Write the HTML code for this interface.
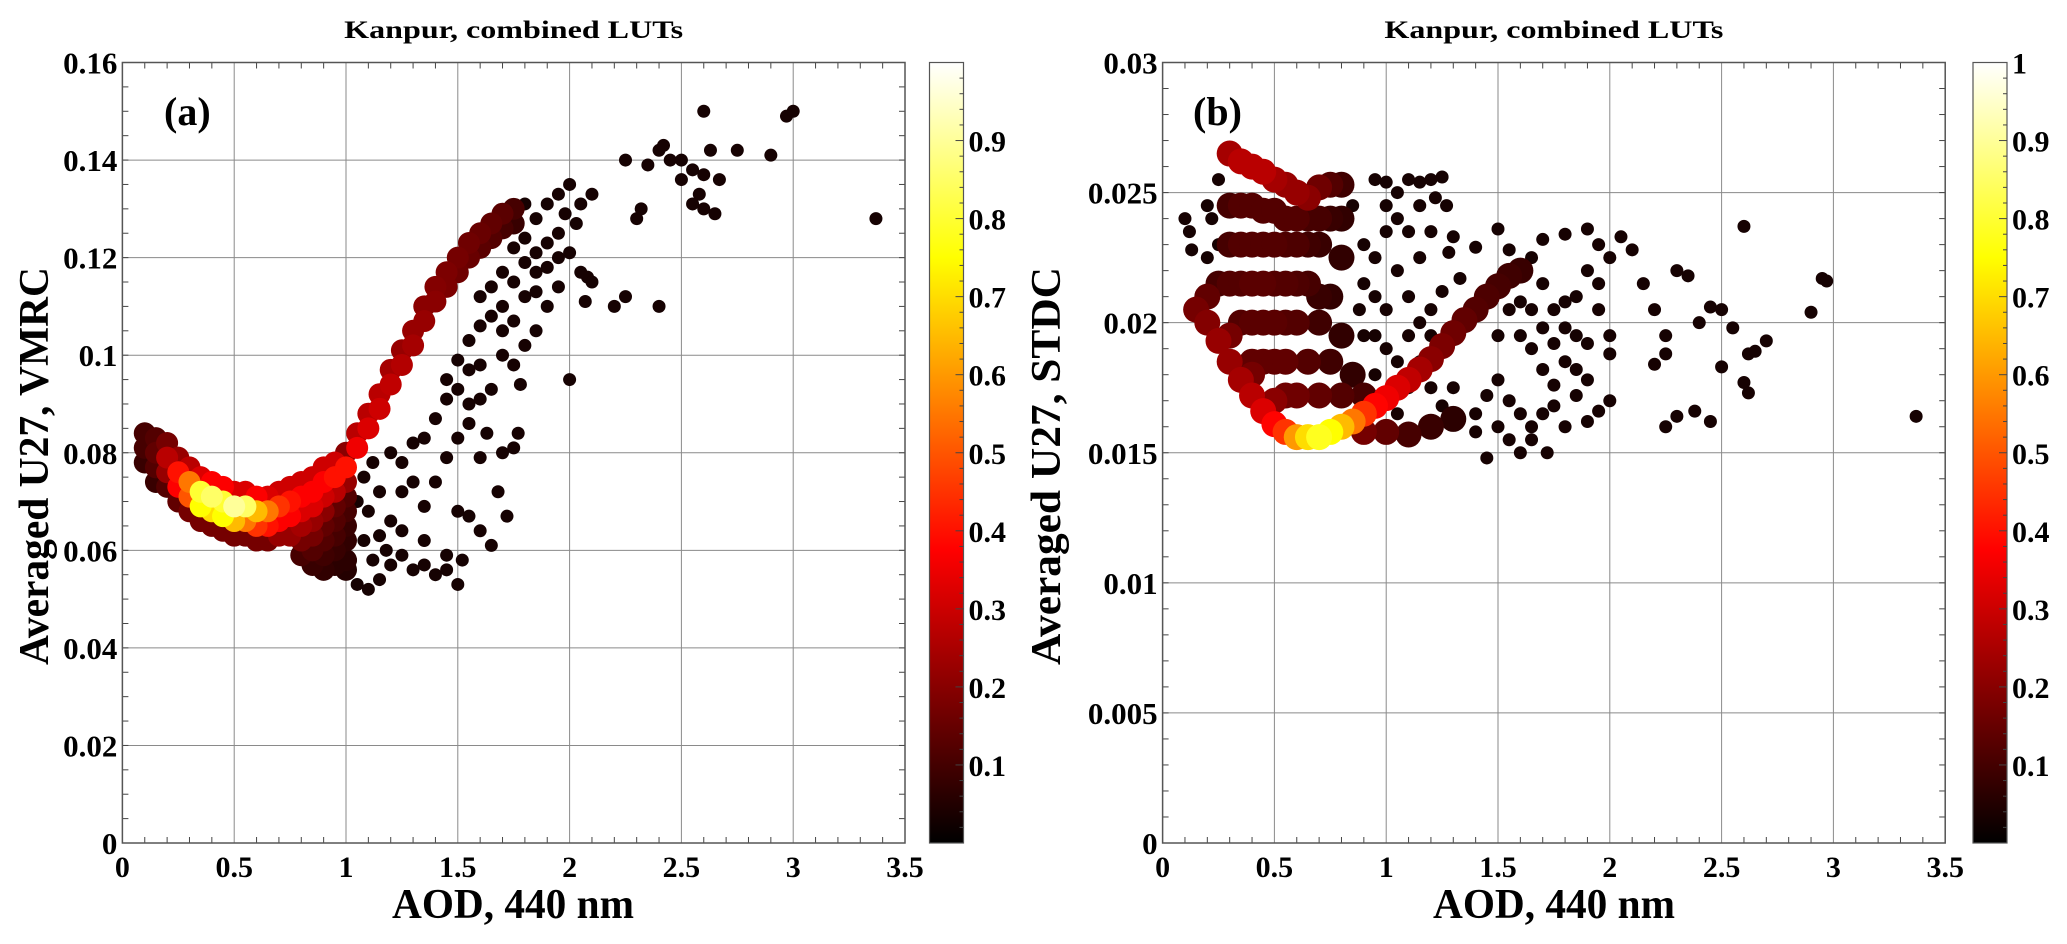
<!DOCTYPE html>
<html><head><meta charset="utf-8"><style>
html,body{margin:0;padding:0;background:#fff;}
svg{display:block;font-family:"Liberation Serif",serif;font-weight:bold;}
</style></head><body>
<svg id="fig" width="2067" height="944" viewBox="0 0 2067 944" xmlns="http://www.w3.org/2000/svg">
<defs>
<linearGradient id="hotgrad" x1="0" y1="1" x2="0" y2="0">
<stop offset="0" stop-color="#000"/><stop offset="0.375" stop-color="#f00"/>
<stop offset="0.75" stop-color="#ff0"/><stop offset="1" stop-color="#fff"/>
</linearGradient>
</defs>
</svg>
<script>
// ---- data: panel (a) dense band [AOD, VMRC, density] ----
const bandA = [
[0.1,.084,.08],[0.1,.081,.08],[0.1,.078,.06],
[0.15,.083,.1],[0.15,.080,.12],[0.15,.077,.1],[0.15,.074,.06],
[0.2,.082,.15],[0.2,.079,.25],[0.2,.076,.2],[0.2,.073,.1],
[0.25,.079,.2],[0.25,.076,.4],[0.25,.073,.35],[0.25,.070,.12],
[0.3,.077,.25],[0.3,.074,.55],[0.3,.071,.5],[0.3,.068,.15],
[0.35,.075,.3],[0.35,.072,.8],[0.35,.069,.75],[0.35,.066,.15],
[0.4,.074,.35],[0.4,.071,.85],[0.4,.068,.7],[0.4,.065,.15],
[0.45,.073,.35],[0.45,.070,.8],[0.45,.067,.75],[0.45,.064,.15],
[0.5,.072,.3],[0.5,.069,.9],[0.5,.066,.65],[0.5,.063,.15],
[0.55,.072,.3],[0.55,.069,.85],[0.55,.066,.55],[0.55,.063,.15],
[0.6,.071,.35],[0.6,.068,.65],[0.6,.065,.45],[0.6,.062,.15],
[0.65,.071,.3],[0.65,.068,.55],[0.65,.065,.4],[0.65,.062,.15],
[0.7,.072,.28],[0.7,.069,.45],[0.7,.066,.35],[0.7,.063,.2],
[0.75,.073,.28],[0.75,.070,.4],[0.75,.067,.35],[0.75,.063,.2],
[0.8,.074,.28],[0.8,.071,.35],[0.8,.068,.3],[0.8,.065,.22],[0.8,.062,.15],[0.8,.059,.08],
[0.85,.075,.28],[0.85,.072,.35],[0.85,.069,.3],[0.85,.066,.2],[0.85,.063,.15],[0.85,.060,.1],[0.85,.057,.06],
[0.9,.077,.28],[0.9,.074,.35],[0.9,.071,.28],[0.9,.068,.18],[0.9,.065,.12],[0.9,.062,.1],[0.9,.059,.07],[0.9,.056,.05],
[0.95,.078,.28],[0.95,.075,.4],[0.95,.072,.25],[0.95,.069,.12],[0.95,.066,.1],[0.95,.063,.08],[0.95,.060,.06],[0.95,.057,.04],
[1.0,.080,.18],[1.0,.077,.4],[1.0,.074,.2],[1.0,.071,.1],[1.0,.068,.08],[1.0,.065,.06],[1.0,.062,.05],[1.0,.058,.04],[1.0,.056,.03],
[1.05,.084,.25],[1.05,.081,.33],[1.1,.088,.25],[1.1,.085,.3],[1.15,.092,.25],[1.15,.089,.28],
[1.2,.097,.22],[1.2,.094,.26],[1.25,.101,.2],[1.25,.098,.24],[1.3,.105,.2],[1.3,.102,.22],
[1.35,.110,.18],[1.35,.107,.2],[1.4,.114,.17],[1.4,.111,.18],[1.45,.117,.16],[1.45,.114,.16],
[1.5,.120,.15],[1.5,.117,.14],[1.55,.123,.14],[1.55,.120,.13],[1.6,.125,.13],[1.6,.122,.11],
[1.65,.127,.12],[1.65,.124,.1],[1.7,.129,.11],[1.7,.126,.08],[1.75,.130,.08],[1.75,.127,.06]
];
// ---- panel (a) sparse points [AOD, VMRC] ----
const scatA = [
[1.02,.058],[1.05,.053],[1.1,.052],[1.15,.054],[1.2,.057],[1.25,.059],[1.3,.056],[1.35,.057],[1.4,.055],[1.45,.056],[1.5,.053],[1.45,.059],[1.52,.058],[1.5,.068],
[1.1,.068],[1.15,.063],[1.2,.066],[1.25,.072],[1.3,.074],[1.35,.069],[1.4,.074],[1.45,.079],[1.5,.083],[1.55,.086],[1.6,.079],[1.63,.084],[1.68,.072],[1.7,.080],[1.75,.081],[1.77,.084],
[1.2,.080],[1.25,.078],[1.3,.082],[1.35,.083],[1.4,.087],[1.45,.091],[1.5,.093],[1.55,.097],[1.6,.091],[1.65,.093],[1.7,.100],[1.75,.098],[1.78,.094],
[1.45,.095],[1.5,.099],[1.55,.103],[1.6,.106],[1.65,.108],[1.7,.105],[1.75,.107],[1.8,.102],[1.85,.105],
[1.6,.112],[1.65,.114],[1.7,.117],[1.75,.115],[1.8,.112],[1.85,.113],[1.9,.110],[1.95,.114],[1.8,.119],[1.85,.121],[1.9,.118],[1.8,.124],[1.9,.123],[1.95,.125],[1.75,.122],
[1.85,.128],[1.9,.131],[1.95,.133],[2.0,.135],[2.05,.131],[2.03,.127],[2.1,.133],[1.98,.129],[1.8,.131],
[2.0,.121],[2.05,.117],[2.08,.116],[2.1,.115],[2.07,.111],[2.0,.095],[2.2,.110],[2.25,.112],[2.4,.110],
[2.3,.128],[2.32,.130],[2.35,.139],[2.4,.142],[2.42,.143],[2.45,.140],[2.5,.136],[2.55,.138],[2.6,.137],[2.58,.133],[2.63,.142],[2.67,.136],[2.6,.130],[2.65,.129],[2.55,.131],[2.25,.140],[2.5,.140],[2.6,.150],[2.75,.142],[2.9,.141],[2.97,.149],[3.0,.150],[3.37,.128],
[1.6,.064],[1.55,.067],[1.72,.067],[1.65,.061],[1.15,.072],[1.25,.064],[1.35,.062],
[1.08,.075],[1.12,.078],[1.05,.070],[1.08,.062],[1.12,.058],[1.18,.060],[1.55,.090],[1.6,.098],[1.7,.110],[1.85,.117],[1.95,.120]
];
// ---- panel (b) dense band [AOD, STDC, density] ----
const bandB = [
[0.3,.0265,.22],[0.35,.0262,.25],[0.4,.026,.25],[0.45,.0258,.25],[0.5,.0255,.22],[0.55,.0253,.2],[0.6,.025,.2],[0.65,.0248,.18],[0.7,.0252,.14],[0.75,.0253,.1],[0.8,.0253,.07],
[0.3,.0245,.08],[0.35,.0245,.1],[0.4,.0245,.1],[0.45,.0243,.1],[0.5,.0243,.1],[0.55,.024,.1],[0.6,.024,.1],[0.65,.024,.08],[0.7,.024,.08],[0.75,.024,.06],[0.8,.024,.05],
[0.3,.023,.08],[0.35,.023,.1],[0.4,.023,.1],[0.45,.023,.1],[0.5,.023,.1],[0.55,.023,.09],[0.6,.023,.09],[0.65,.023,.07],[0.7,.023,.06],[0.8,.0225,.05],
[0.25,.0215,.08],[0.3,.0215,.1],[0.35,.0215,.1],[0.4,.0215,.11],[0.45,.0215,.11],[0.5,.0215,.1],[0.55,.0215,.1],[0.6,.0215,.09],[0.65,.0215,.08],[0.7,.021,.06],[0.75,.021,.05],
[0.35,.020,.1],[0.4,.020,.11],[0.45,.020,.11],[0.5,.020,.11],[0.55,.020,.1],[0.6,.020,.1],[0.7,.020,.07],[0.8,.0195,.05],
[0.4,.0185,.12],[0.45,.0185,.12],[0.5,.0185,.12],[0.55,.0185,.12],[0.65,.0185,.1],[0.75,.0185,.07],[0.85,.018,.05],
[0.55,.0172,.14],[0.6,.0172,.14],[0.7,.0172,.12],[0.8,.0172,.1],[0.9,.0172,.08],
[0.2,.0210,.12],[0.3,.0195,.15],[0.4,.0180,.15],[0.5,.0170,.18],
[0.15,.0205,.15],[0.2,.0200,.17],[0.25,.0193,.2],[0.3,.0185,.2],[0.35,.0178,.22],[0.4,.0172,.25],[0.45,.0166,.3],[0.5,.0161,.38],[0.55,.0158,.45],[0.6,.0156,.6],[0.65,.0156,.7],[0.7,.0156,.78],[0.75,.0158,.75],[0.8,.016,.65],[0.85,.0162,.55],[0.9,.0165,.45],[0.95,.0168,.38],[1.0,.0171,.33],[1.05,.0175,.3],[1.1,.0178,.26],[1.15,.0182,.22],[1.2,.0186,.18],[1.25,.0191,.16],[1.3,.0196,.14],[1.35,.0201,.12],[1.4,.0205,.1],[1.45,.021,.09],[1.5,.0214,.08],[1.55,.0218,.07],[1.6,.022,.06],
[0.9,.0158,.15],[1.0,.0158,.12],[1.1,.0157,.08],[1.2,.016,.06],[1.3,.0163,.04]
];
// ---- panel (b) sparse points [AOD, STDC] ----
const scatB = [
[0.1,.0240],[0.12,.0235],[0.13,.0228],[0.2,.0245],[0.22,.024],[0.25,.0255],[0.95,.0255],[1.0,.0254],[1.05,.025],[1.1,.0255],[1.15,.0254],[1.2,.0255],[1.25,.0256],[1.22,.0248],[1.27,.0245],[1.3,.0233],[1.28,.0227],
[0.9,.023],[1.0,.0235],[1.05,.022],[1.1,.021],[1.15,.02],[1.2,.0195],[1.0,.019],[1.05,.0185],[1.1,.0175],[0.95,.021],[1.2,.0205],[1.25,.0212],[1.3,.0198],[1.33,.0217],
[1.4,.0229],[1.5,.0236],[1.55,.0228],[1.65,.0225],[1.7,.0232],[1.8,.0234],[1.9,.0236],[1.95,.0230],[2.05,.0233],[2.1,.0228],[1.6,.0208],[1.7,.0215],[1.75,.0205],[1.8,.0198],[1.85,.021],[1.9,.0192],[1.95,.0205],[2.0,.0188],
[1.65,.019],[1.7,.0182],[1.75,.0176],[1.8,.0185],[1.85,.0172],[1.9,.0178],[1.95,.0166],[2.0,.0195],[1.5,.0178],[1.55,.017],[1.6,.0165],[1.65,.016],[1.45,.0148],[1.6,.015],[1.72,.015],[1.5,.0160],[1.4,.0165],
[2.15,.0215],[2.2,.0205],[2.25,.0195],[2.3,.022],[2.35,.0218],[2.4,.02],[2.45,.0206],[2.5,.0205],[2.55,.0198],[2.6,.0237],[2.62,.0188],[2.65,.0189],[2.7,.0193],[2.6,.0177],[2.62,.0173],[2.5,.0183],[2.25,.0188],[2.3,.0164],[2.25,.016],[2.38,.0166],[2.45,.0162],[2.2,.0184],[2.9,.0204],[2.95,.0217],[2.97,.0216],[3.37,.0164],
[0.2,.0225],[0.25,.023],[0.9,.0195],[0.95,.018],[1.0,.0245],[1.15,.0225],[1.2,.0235],
[0.85,.0245],[0.9,.0215],[0.95,.0225],[1.0,.0205],[1.05,.024],[1.1,.0235],[1.15,.0245],[1.1,.0195],[1.15,.0185],[1.2,.0175],[1.25,.0168],[1.3,.0175],[1.05,.0165],[0.95,.0195],[0.88,.0205],
[1.5,.0195],[1.55,.0205],[1.6,.0195],[1.65,.0205],[1.7,.0198],[1.75,.0192],[1.8,.0208],[1.85,.0195],[1.9,.022],[1.95,.0215],[2.0,.0225],[1.7,.0165],[1.75,.0168],[1.8,.016],[1.85,.0182],[1.55,.0155],[1.65,.0155],[1.4,.0158],[1.45,.0172],[1.9,.0162],[2.0,.017]
];
const xTicks = ["0","0.5","1","1.5","2","2.5","3","3.5"];
const yTicksA = ["0","0.02","0.04","0.06","0.08","0.1","0.12","0.14","0.16"];
const yTicksB = ["0","0.005","0.01","0.015","0.02","0.025","0.03"];
const cbTicksA = ["0.1","0.2","0.3","0.4","0.5","0.6","0.7","0.8","0.9"];
const cbTicksB = ["0.1","0.2","0.3","0.4","0.5","0.6","0.7","0.8","0.9","1"];

const NS = "http://www.w3.org/2000/svg";
const svg = document.getElementById('fig');
function mk(tag, attrs, parent) {
  const e = document.createElementNS(NS, tag);
  for (const k in attrs) e.setAttribute(k, attrs[k]);
  (parent || svg).appendChild(e);
  return e;
}
function hot(d) {
  const c = v => Math.max(0, Math.min(1, v));
  const r = c(0.06 + d / 0.375), g = c((d - 0.375) / 0.375), b = c((d - 0.75) / 0.25);
  return `rgb(${Math.round(r*255)},${Math.round(g*255)},${Math.round(b*255)})`;
}

function panel(o) {
  const g = mk('g', {});
  
  
  const X0 = o.x0, X1 = o.x0 + 782.6, Y0 = 62.5, Y1 = 843;
  const sx = v => X0 + (v / 3.5) * (X1 - X0);
  const sy = v => Y1 - (v / o.ymax) * (Y1 - Y0);
  xTicks.forEach(t => {
    const x = sx(+t);
    const l = mk('line', {x1:x, x2:x, y1:Y0, y2:Y1, stroke:'#8a8a8a', 'stroke-width':1}, g);
    
    
  });
  o.yTicks.forEach(t => {
    const y = sy(+t);
    const l = mk('line', {x1:X0, x2:X1, y1:y, y2:y, stroke:'#8a8a8a', 'stroke-width':1}, g);
    
    
  });
  for (let i = 0; i <= 35; i++) {
    if (i % 5 === 0) continue;
    const x = sx(i * 0.1);
    mk('line', {x1:x, x2:x, y1:Y1, y2:Y1 - 6, stroke:'#444'}, g);
    mk('line', {x1:x, x2:x, y1:Y0, y2:Y0 + 6, stroke:'#444'}, g);
  }
  for (let i = 1; i < o.minorN; i++) {
    const y = Y1 - i * (Y1 - Y0) / o.minorN;
    mk('line', {x1:X0, x2:X0 + 6, y1:y, y2:y, stroke:'#444'}, g);
    mk('line', {x1:X1, x2:X1 - 6, y1:y, y2:y, stroke:'#444'}, g);
  }
  const pts = mk('g', {}, g);
  
  
  o.scat.forEach(p => {
    const c = mk('circle', {cx:sx(p[0]), cy:sy(p[1]), r:6.5, fill:'#160202'}, pts);
    
    
  });
  const bandSorted = o.band.slice().sort((a, b) => a[2] - b[2]);
  bandSorted.forEach(p => {
    const c = mk('circle', {cx:sx(p[0]), cy:sy(p[1]), r:o.bandR, fill:hot(p[2])}, pts);
    
    
  });
  const fr = mk('rect', {x:X0, y:Y0, width:X1 - X0, height:Y1 - Y0, fill:'none', stroke:'#555', 'stroke-width':1.5}, g);
  
  
  xTicks.forEach(t => {
    const tx = mk('text', {x:sx(+t), y:877, 'font-size':30, 'text-anchor':'middle'}, g);
    tx.textContent = t;
    
    
  });
  o.yTicks.forEach(t => {
    const tx = mk('text', {x:X0 - 5, y:sy(+t) + 11, 'font-size':31, 'text-anchor':'end'}, g);
    tx.textContent = t;
    
    
  });
  const tt = mk('text', {x:(X0 + X1) / 2, y:38, 'font-size':25, 'text-anchor':'middle', textLength:339, lengthAdjust:'spacingAndGlyphs'}, g);
  tt.textContent = 'Kanpur, combined LUTs';
  
  
  const xt = mk('text', {x:o.xTitleX, y:918, 'font-size':42, 'text-anchor':'middle', textLength:242, lengthAdjust:'spacingAndGlyphs'}, g);
  xt.textContent = 'AOD, 440 nm';
  
  
  const yt = mk('text', {x:0, y:0, 'font-size':42, 'text-anchor':'middle', textLength:o.yTitleLen, lengthAdjust:'spacingAndGlyphs', transform:`translate(${o.yTitleX},${o.yTitleY}) rotate(-90)`}, g);
  yt.textContent = o.yTitle;
  
  
  const pl = mk('text', {x:o.labX, y:125, 'font-size':40}, g);
  pl.textContent = o.lab;
  
  
  const cb = mk('g', {}, g);
  
  
  const cx = o.cbX, cw = 34;
  mk('rect', {x:cx, y:Y0, width:cw, height:Y1 - Y0, fill:'url(#hotgrad)', stroke:'#555', 'stroke-width':1.2}, cb);
  for (let i = 1; i < 50; i++) {
    const y = Y1 - i * (Y1 - Y0) / 50;
    mk('line', {x1:cx + cw, x2:cx + cw - (i % 5 === 0 ? 8 : 4), y1:y, y2:y, stroke:'#444'}, cb);
  }
  o.cbTicks.forEach(t => {
    const y = Y1 - (+t) * (Y1 - Y0);
    const tx = mk('text', {x:cx + cw + 5, y:y + 11, 'font-size':30}, cb);
    tx.textContent = t;
    
    
  });
}

panel({name:'panel-a', x0:122.4, ymax:0.16, yTicks:yTicksA, minorN:32, band:bandA, scat:scatA, bandR:11,
  xTitleX:513, yTitle:'Averaged U27, VMRC', yTitleX:48, yTitleY:466, yTitleLen:398, lab:'(a)', labX:164,
  cbX:929.5, cbTicks:cbTicksA});
panel({name:'panel-b', x0:1162.6, ymax:0.03, yTicks:yTicksB, minorN:30, band:bandB, scat:scatB, bandR:13,
  xTitleX:1554, yTitle:'Averaged U27, STDC', yTitleX:1060, yTitleY:466, yTitleLen:398, lab:'(b)', labX:1193,
  cbX:1973, cbTicks:cbTicksB});
</script>
</body></html>
